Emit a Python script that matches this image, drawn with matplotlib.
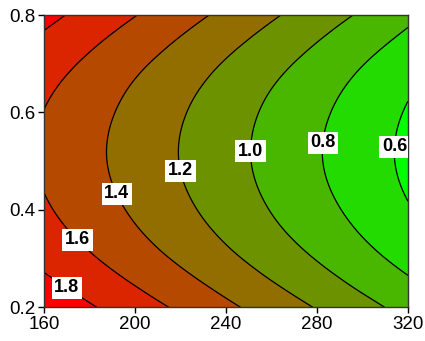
import numpy as np
import matplotlib
matplotlib.use("Agg")
import matplotlib.pyplot as plt
import matplotlib.tri as mtri
from matplotlib.colors import ListedColormap, BoundaryNorm

# grid of response values
x_vals = [160, 180, 200, 220, 240, 260, 280, 300, 320]
y_vals = [0.2, 0.3, 0.4, 0.5, 0.6, 0.7, 0.8]
z_vals = [
    [1.946, 1.820, 1.693, 1.567, 1.440, 1.314, 1.188, 1.061, 0.935],
    [1.749, 1.623, 1.496, 1.370, 1.244, 1.117, 0.991, 0.864, 0.738],
    [1.625, 1.499, 1.373, 1.246, 1.120, 0.993, 0.867, 0.741, 0.614],
    [1.575, 1.448, 1.322, 1.195, 1.069, 0.943, 0.816, 0.690, 0.563],
    [1.596, 1.470, 1.344, 1.217, 1.091, 0.964, 0.838, 0.712, 0.585],
    [1.691, 1.565, 1.438, 1.312, 1.185, 1.059, 0.933, 0.806, 0.680],
    [1.858, 1.732, 1.606, 1.479, 1.353, 1.226, 1.100, 0.974, 0.847],
]
levels = [0.4, 0.6, 0.8, 1.0, 1.2, 1.4, 1.6, 1.8, 2.0]
band_colors = ["#00ff00", "#24db00", "#49b600", "#6d9200", "#926d00",
               "#b64900", "#db2400", "#ff0000"]
label_pos = [(170, 0.24), (175, 0.34), (193, 0.435), (220, 0.48),
             (249, 0.52), (279, 0.54), (311, 0.53)]

plt.rcParams['font.family'] = ['Liberation Sans', 'DejaVu Sans']

# triangulate in normalised units so the cubic refiner is not skewed
X, Y = np.meshgrid(x_vals, y_vals)
Z = np.array(z_vals)
u = (X.ravel() - 160) / 160.0
v = (Y.ravel() - 0.2) / 0.6
tri_n = mtri.Triangulation(u, v)
refiner = mtri.UniformTriRefiner(tri_n)
tri_f, z_f = refiner.refine_field(Z.ravel(), subdiv=4)
tri_xy = mtri.Triangulation(tri_f.x * 160 + 160, tri_f.y * 0.6 + 0.2, tri_f.triangles)

fig = plt.figure(figsize=(4.25, 3.41), dpi=100)
ax = fig.add_axes([0.104, 0.099, 0.856, 0.857])

cmap = ListedColormap(band_colors)
norm = BoundaryNorm(levels, cmap.N)
ax.tricontourf(tri_xy, z_f, levels=levels, cmap=cmap, norm=norm)
cs = ax.tricontour(tri_xy, z_f, levels=levels[1:-1], colors='black', linewidths=0.9)
labels = ax.clabel(cs, fmt='%.1f', manual=label_pos, inline=False, fontsize=13)
for t in labels:
    t.set_rotation(0)
    t.set_fontweight('bold')
    t.set_bbox(dict(facecolor='white', edgecolor='none', pad=1.8))

ax.set_xlim(160, 320)
ax.set_ylim(0.2, 0.8)
ax.set_xticks([160, 200, 240, 280, 320])
ax.set_yticks([0.2, 0.4, 0.6, 0.8])
ax.tick_params(direction='out', length=4, width=1, labelsize=13.5, pad=2)
for s in ax.spines.values():
    s.set_linewidth(1)
    s.set_color('#333333')

fig.savefig("out.png", dpi=100)
